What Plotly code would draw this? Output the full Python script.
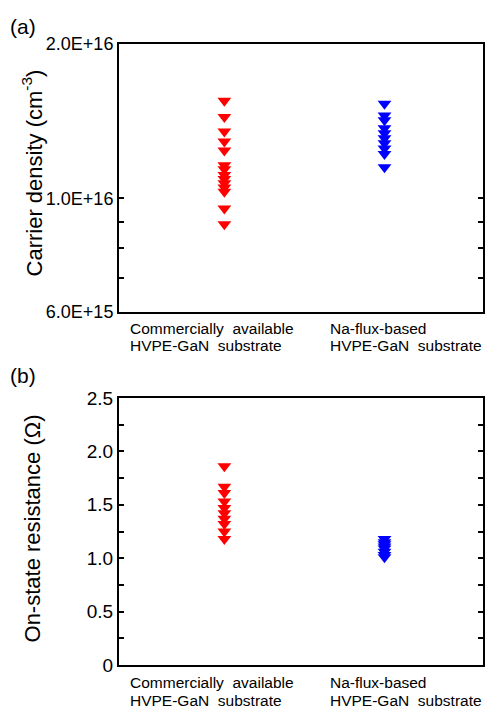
import plotly.graph_objects as go
import math

# ---- data ----
categories = ["Commercially available HVPE-GaN substrate", "Na-flux-based HVPE-GaN substrate"]
cat_line1 = ["Commercially\u00a0 available", "Na-flux-based"]
cat_line2 = ["HVPE-GaN\u00a0 substrate", "HVPE-GaN\u00a0 substrate"]
cat_x = [1, 2]

carrier_commercial = [1.55e16, 1.44e16, 1.35e16, 1.29e16, 1.24e16, 1.16e16, 1.14e16,
                      1.11e16, 1.09e16, 1.07e16, 1.05e16, 1.03e16, 9.55e15, 8.9e15]
carrier_naflux = [1.53e16, 1.45e16, 1.42e16, 1.37e16, 1.34e16, 1.31e16, 1.28e16,
                  1.25e16, 1.22e16, 1.15e16]

ron_commercial = [1.86, 1.67, 1.61, 1.53, 1.47, 1.42, 1.37, 1.32, 1.25, 1.18]
ron_naflux = [1.18, 1.15, 1.13, 1.11, 1.09, 1.06, 1.03, 1.01]

top_tickvals = [6e15, 1e16, 2e16]
top_ticktext = ["6.0E+15", "1.0E+16", "2.0E+16"]
top_minor = [7e15, 8e15, 9e15]
bot_tickvals = [0, 0.5, 1.0, 1.5, 2.0, 2.5]
bot_ticktext = ["0", "0.5", "1.0", "1.5", "2.0", "2.5"]
bot_minor = [0.25, 0.75, 1.25, 1.75, 2.25]

colors = ["#FF0000", "#0000FF"]
FONT = "Arial, Liberation Sans, sans-serif"

# ---- layout geometry ----
W, H = 496, 708
L, R, T, B = 119, 485, 44, 665


def py(y):
    return (B - y) / (B - T)


def px(x):
    return (x - L) / (R - L)


fig = go.Figure()

top_sets = [carrier_commercial, carrier_naflux]
bot_sets = [ron_commercial, ron_naflux]
for i in range(2):
    fig.add_trace(go.Scatter(
        x=[cat_x[i]] * len(top_sets[i]), y=top_sets[i], mode="markers",
        marker=dict(symbol="triangle-down", size=12, color=colors[i], line=dict(width=0)),
        xaxis="x", yaxis="y", showlegend=False, name=categories[i]))
    fig.add_trace(go.Scatter(
        x=[cat_x[i]] * len(bot_sets[i]), y=bot_sets[i], mode="markers",
        marker=dict(symbol="triangle-down", size=12, color=colors[i], line=dict(width=0)),
        xaxis="x2", yaxis="y2", showlegend=False, name=categories[i]))

xrange = [0.342, 2.615]
axis_common = dict(showline=True, linecolor="black", linewidth=2, mirror="ticks",
                   showgrid=False, zeroline=False)

fig.update_layout(
    width=W, height=H,
    margin=dict(l=L, r=W - R, t=T, b=H - B),
    paper_bgcolor="white", plot_bgcolor="white",
    font=dict(family=FONT, color="black"),
    xaxis=dict(domain=[0, 1], anchor="y", range=xrange, showticklabels=False,
               ticks="", **axis_common),
    yaxis=dict(domain=[py(312), 1], anchor="x", type="log",
               range=[math.log10(6e15), math.log10(2e16)],
               tickvals=top_tickvals, ticktext=top_ticktext,
               ticks="inside", ticklen=5, tickwidth=1.5, tickcolor="black",
               tickfont=dict(size=18, family=FONT),
               minor=dict(tickvals=top_minor, ticks="inside", ticklen=5,
                          tickwidth=1.5, tickcolor="black"),
               **axis_common),
    xaxis2=dict(domain=[0, 1], anchor="y2", range=xrange, showticklabels=False,
                ticks="", **axis_common),
    yaxis2=dict(domain=[0, py(398)], anchor="x2", range=[0, 2.5],
                tickvals=bot_tickvals, ticktext=bot_ticktext,
                ticks="inside", ticklen=5, tickwidth=1.5, tickcolor="black",
                tickfont=dict(size=19, family=FONT),
                minor=dict(tickvals=bot_minor, ticks="inside", ticklen=5,
                           tickwidth=1.5, tickcolor="black"),
                **axis_common),
)

ann = []
# panel labels
ann.append(dict(text="(a)", x=px(22), y=py(26), xref="paper", yref="paper",
                xanchor="center", yanchor="middle",
                showarrow=False, font=dict(size=21, family=FONT)))
ann.append(dict(text="(b)", x=px(22), y=py(376), xref="paper", yref="paper",
                xanchor="center", yanchor="middle",
                showarrow=False, font=dict(size=21, family=FONT)))
# y titles
ann.append(dict(text="Carrier density (cm<sup>-3</sup>)", x=px(32), y=py(173),
                xref="paper", yref="paper", textangle=-90, showarrow=False,
                xanchor="center", yanchor="middle",
                font=dict(size=22, family=FONT)))
ann.append(dict(text="On-state resistance (\u03a9)", x=px(32), y=py(528),
                xref="paper", yref="paper", textangle=-90, showarrow=False,
                xanchor="center", yanchor="middle",
                font=dict(size=22, family=FONT)))
# category labels
label_left = [128, 329]
for panel_y in [(328.5, 345.5), (682.5, 700.5)]:
    for i in range(2):
        ann.append(dict(text=cat_line1[i], x=px(label_left[i]), y=py(panel_y[0]),
                        xref="paper", yref="paper", xanchor="left", yanchor="middle",
                        showarrow=False, font=dict(size=15.5, family=FONT)))
        ann.append(dict(text=cat_line2[i], x=px(label_left[i]), y=py(panel_y[1]),
                        xref="paper", yref="paper", xanchor="left", yanchor="middle",
                        showarrow=False, font=dict(size=15.5, family=FONT)))

fig.update_layout(annotations=ann)
fig.write_html("out.html")
